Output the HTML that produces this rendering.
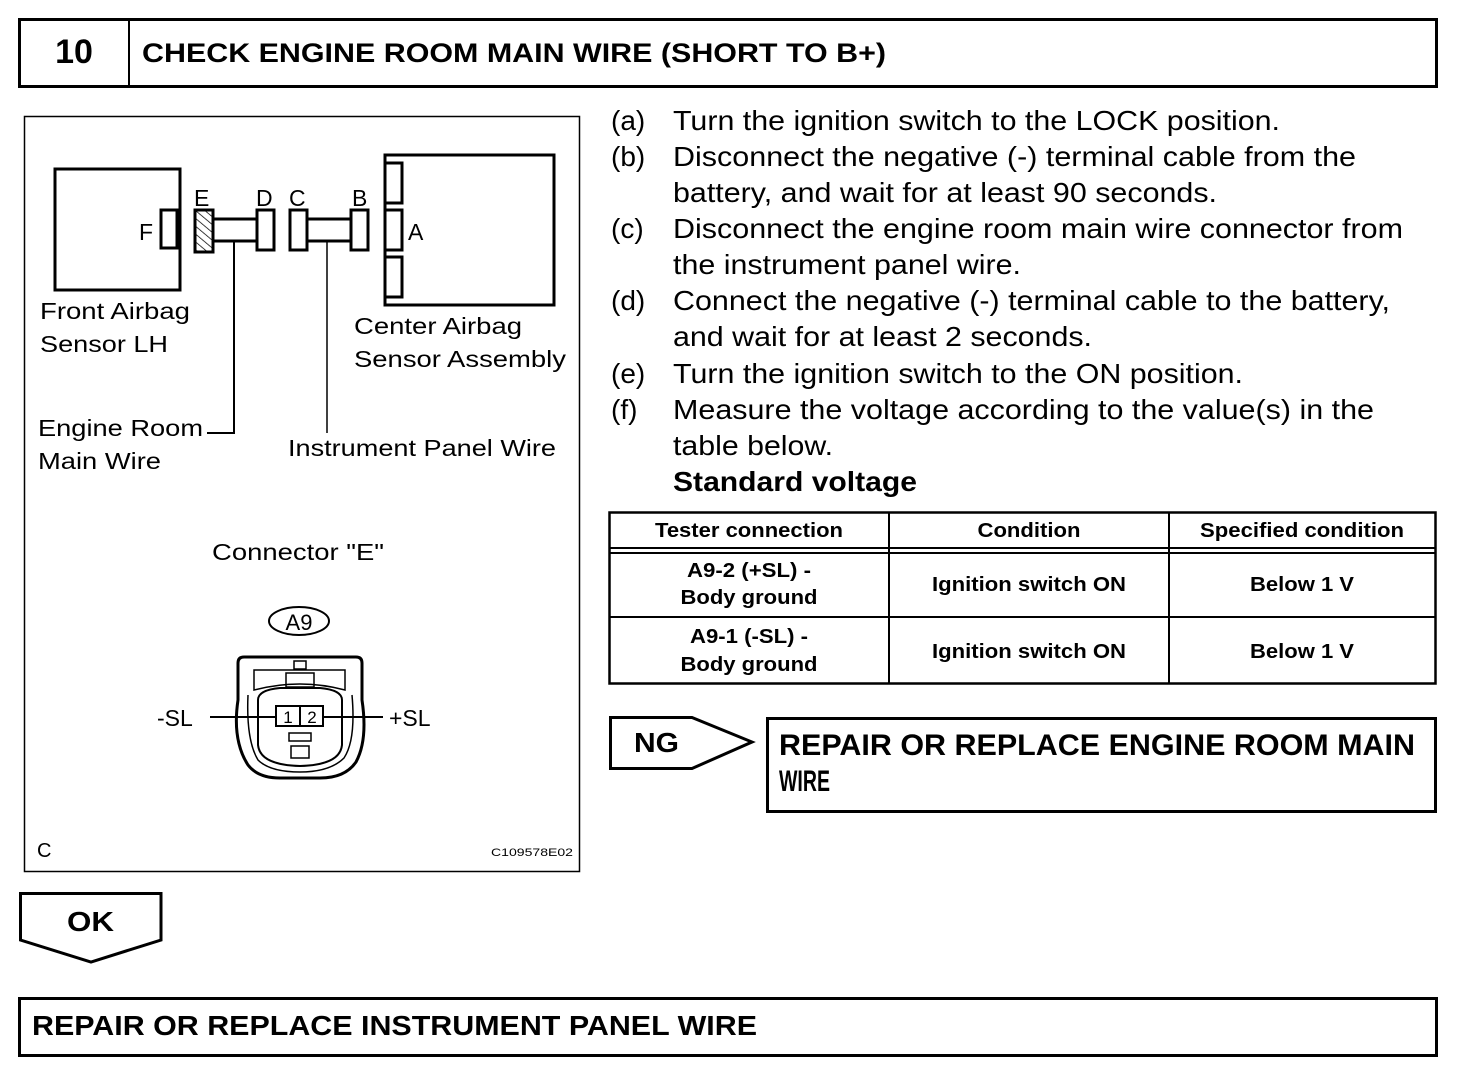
<!DOCTYPE html>
<html><head><style>
html,body{margin:0;padding:0;background:#fff;}
svg{display:block;}
text{font-family:"Liberation Sans",sans-serif;fill:#000;}
.b{font-weight:bold;}
</style></head><body>
<svg width="1472" height="1074" viewBox="0 0 1472 1074" xmlns="http://www.w3.org/2000/svg">
<defs>
<pattern id="h" width="6" height="6" patternUnits="userSpaceOnUse" patternTransform="rotate(-50)">
<rect width="6" height="6" fill="#fff"/><line x1="0" y1="0" x2="0" y2="6" stroke="#000" stroke-width="1.5"/></pattern>
</defs>
<g fill="none" stroke="#000">
<!-- header -->
<rect x="19.5" y="19.5" width="1417" height="67" stroke-width="3"/>
<line x1="129" y1="19" x2="129" y2="87" stroke-width="2"/>
<!-- diagram frame -->
<rect x="24.5" y="116.5" width="555" height="755" stroke-width="1.5"/>
<!-- front airbag -->
<rect x="55" y="169" width="125" height="121" stroke-width="3"/>
<rect x="161" y="210" width="16" height="38" stroke-width="3" fill="#fff"/>
<rect x="195" y="210" width="18" height="42" stroke-width="3" fill="url(#h)"/>
<line x1="213" y1="219" x2="257" y2="219" stroke-width="3"/>
<line x1="213" y1="241" x2="257" y2="241" stroke-width="3"/>
<rect x="257" y="210" width="17" height="40" stroke-width="3"/>
<rect x="290" y="210" width="17" height="40" stroke-width="3"/>
<line x1="307" y1="219" x2="351" y2="219" stroke-width="3"/>
<line x1="307" y1="241" x2="351" y2="241" stroke-width="3"/>
<rect x="351" y="210" width="17" height="40" stroke-width="3"/>
<rect x="385" y="155" width="169" height="150" stroke-width="3"/>
<rect x="385" y="163" width="17" height="40" stroke-width="3"/>
<rect x="385" y="210" width="17" height="40" stroke-width="3"/>
<rect x="385" y="257" width="17" height="40" stroke-width="3"/>
<polyline points="234,242 234,433 207,433" stroke-width="2"/>
<line x1="327" y1="242" x2="327" y2="433" stroke-width="1.5"/>
<!-- A9 connector -->
<ellipse cx="299" cy="621" rx="30" ry="14" stroke-width="2"/>
<path d="M244,657 Q238,657 238,663 L238,700 Q232,740 248,765 Q258,778 280,778 L320,778 Q345,778 356,762 Q368,740 362,700 L362,663 Q362,657 356,657 Z" stroke-width="3"/>
<path d="M254,670 L345,670 L345,690 Q300,678 254,690 Z" stroke-width="1.5"/>
<rect x="286" y="673" width="28" height="14" stroke-width="1.5"/>
<rect x="294" y="661" width="12" height="8" stroke-width="1.5"/>
<path d="M258,700 Q258,690 280,688 L320,688 Q342,690 342,700 L342,745 Q340,765 300,766 Q260,765 258,745 Z" stroke-width="2"/>
<path d="M248,695 Q246,740 258,760 Q270,772 300,772 Q330,772 344,758 Q356,740 352,695" stroke-width="1.5"/>
<rect x="289" y="733" width="22" height="8" stroke-width="1.5"/>
<rect x="291" y="746" width="18" height="12" stroke-width="1.5"/>
<line x1="210" y1="717" x2="383" y2="717" stroke-width="2"/>
<rect x="276" y="706" width="47" height="20" stroke-width="2" fill="#fff"/>
<line x1="300" y1="706" x2="300" y2="726" stroke-width="2"/>
<!-- OK -->
<polygon points="20.5,893.5 161,893.5 161,940 91,962 20.5,940" stroke-width="3"/>
<!-- bottom box -->
<rect x="19.5" y="998.5" width="1417" height="57" stroke-width="3"/>
<!-- table -->
<rect x="609.5" y="512.5" width="826" height="171" stroke-width="2.5"/>
<line x1="609" y1="548" x2="1436" y2="548" stroke-width="2"/>
<line x1="609" y1="553" x2="1436" y2="553" stroke-width="2"/>
<line x1="609" y1="617" x2="1436" y2="617" stroke-width="2"/>
<line x1="889" y1="512" x2="889" y2="684" stroke-width="2"/>
<line x1="1169" y1="512" x2="1169" y2="684" stroke-width="2"/>
<!-- NG -->
<polygon points="610.5,717.5 692,717.5 752,742 692,768.5 610.5,768.5" stroke-width="3"/>
<rect x="767.5" y="718.5" width="1668" height="0" stroke-width="0"/>
<rect x="767.5" y="718.5" width="668" height="93" stroke-width="3"/>
</g>
<!-- header text -->
<text x="74" y="63" class="b" font-size="34" text-anchor="middle">10</text>
<text x="142" y="62" class="b" font-size="27" textLength="744" lengthAdjust="spacingAndGlyphs">CHECK ENGINE ROOM MAIN WIRE (SHORT TO B+)</text>
<!-- diagram labels -->
<g font-size="23">
<text x="139" y="240">F</text>
<text x="194" y="206">E</text>
<text x="256" y="206">D</text>
<text x="289" y="206">C</text>
<text x="352" y="206">B</text>
<text x="408" y="240">A</text>
<text x="40" y="319" textLength="150" lengthAdjust="spacingAndGlyphs">Front Airbag</text>
<text x="40" y="352" textLength="128" lengthAdjust="spacingAndGlyphs">Sensor LH</text>
<text x="354" y="334" textLength="168" lengthAdjust="spacingAndGlyphs">Center Airbag</text>
<text x="354" y="367" textLength="212" lengthAdjust="spacingAndGlyphs">Sensor Assembly</text>
<text x="38" y="436" textLength="165" lengthAdjust="spacingAndGlyphs">Engine Room</text>
<text x="38" y="469" textLength="123" lengthAdjust="spacingAndGlyphs">Main Wire</text>
<text x="288" y="456" textLength="268" lengthAdjust="spacingAndGlyphs">Instrument Panel Wire</text>
<text x="212" y="560" textLength="172" lengthAdjust="spacingAndGlyphs">Connector "E"</text>
<text x="157" y="726">-SL</text>
<text x="389" y="726">+SL</text>
<text x="37" y="857" font-size="20">C</text>
</g>
<text x="299" y="630" font-size="22" text-anchor="middle">A9</text>
<text x="288" y="723" font-size="17" text-anchor="middle">1</text>
<text x="312" y="723" font-size="17" text-anchor="middle">2</text>
<text x="491" y="856" font-size="11" textLength="82" lengthAdjust="spacingAndGlyphs">C109578E02</text>
<!-- steps -->
<g font-size="28">
<text x="611" y="130">(a)</text><text x="673" y="130" textLength="607" lengthAdjust="spacingAndGlyphs">Turn the ignition switch to the LOCK position.</text>
<text x="611" y="166">(b)</text><text x="673" y="166" textLength="683" lengthAdjust="spacingAndGlyphs">Disconnect the negative (-) terminal cable from the</text>
<text x="673" y="202" textLength="544" lengthAdjust="spacingAndGlyphs">battery, and wait for at least 90 seconds.</text>
<text x="611" y="238">(c)</text><text x="673" y="238" textLength="730" lengthAdjust="spacingAndGlyphs">Disconnect the engine room main wire connector from</text>
<text x="673" y="274" textLength="348" lengthAdjust="spacingAndGlyphs">the instrument panel wire.</text>
<text x="611" y="310">(d)</text><text x="673" y="310" textLength="717" lengthAdjust="spacingAndGlyphs">Connect the negative (-) terminal cable to the battery,</text>
<text x="673" y="346" textLength="419" lengthAdjust="spacingAndGlyphs">and wait for at least 2 seconds.</text>
<text x="611" y="383">(e)</text><text x="673" y="383" textLength="570" lengthAdjust="spacingAndGlyphs">Turn the ignition switch to the ON position.</text>
<text x="611" y="419">(f)</text><text x="673" y="419" textLength="701" lengthAdjust="spacingAndGlyphs">Measure the voltage according to the value(s) in the</text>
<text x="673" y="455" textLength="160" lengthAdjust="spacingAndGlyphs">table below.</text>
<text x="673" y="491" class="b" textLength="244" lengthAdjust="spacingAndGlyphs">Standard voltage</text>
</g>
<!-- table text -->
<g font-size="20" class="b" text-anchor="middle">
<text x="749" y="537" textLength="188" lengthAdjust="spacingAndGlyphs">Tester connection</text>
<text x="1029" y="537" textLength="103" lengthAdjust="spacingAndGlyphs">Condition</text>
<text x="1302" y="537" textLength="204" lengthAdjust="spacingAndGlyphs">Specified condition</text>
<text x="749" y="577" textLength="124" lengthAdjust="spacingAndGlyphs">A9-2 (+SL) -</text>
<text x="749" y="604" textLength="137" lengthAdjust="spacingAndGlyphs">Body ground</text>
<text x="1029" y="591" textLength="194" lengthAdjust="spacingAndGlyphs">Ignition switch ON</text>
<text x="1302" y="591" textLength="104" lengthAdjust="spacingAndGlyphs">Below 1 V</text>
<text x="749" y="643" textLength="118" lengthAdjust="spacingAndGlyphs">A9-1 (-SL) -</text>
<text x="749" y="671" textLength="137" lengthAdjust="spacingAndGlyphs">Body ground</text>
<text x="1029" y="658" textLength="194" lengthAdjust="spacingAndGlyphs">Ignition switch ON</text>
<text x="1302" y="658" textLength="104" lengthAdjust="spacingAndGlyphs">Below 1 V</text>
</g>
<text x="634" y="752" class="b" font-size="28" textLength="45" lengthAdjust="spacingAndGlyphs">NG</text>
<text x="779" y="755" class="b" font-size="30" textLength="636" lengthAdjust="spacingAndGlyphs">REPAIR OR REPLACE ENGINE ROOM MAIN</text>
<text x="779" y="791" class="b" font-size="30" textLength="51" lengthAdjust="spacingAndGlyphs">WIRE</text>
<text x="67" y="931" class="b" font-size="28" textLength="47" lengthAdjust="spacingAndGlyphs">OK</text>
<text x="32" y="1035" class="b" font-size="28" textLength="725" lengthAdjust="spacingAndGlyphs">REPAIR OR REPLACE INSTRUMENT PANEL WIRE</text>
</svg>
</body></html>
